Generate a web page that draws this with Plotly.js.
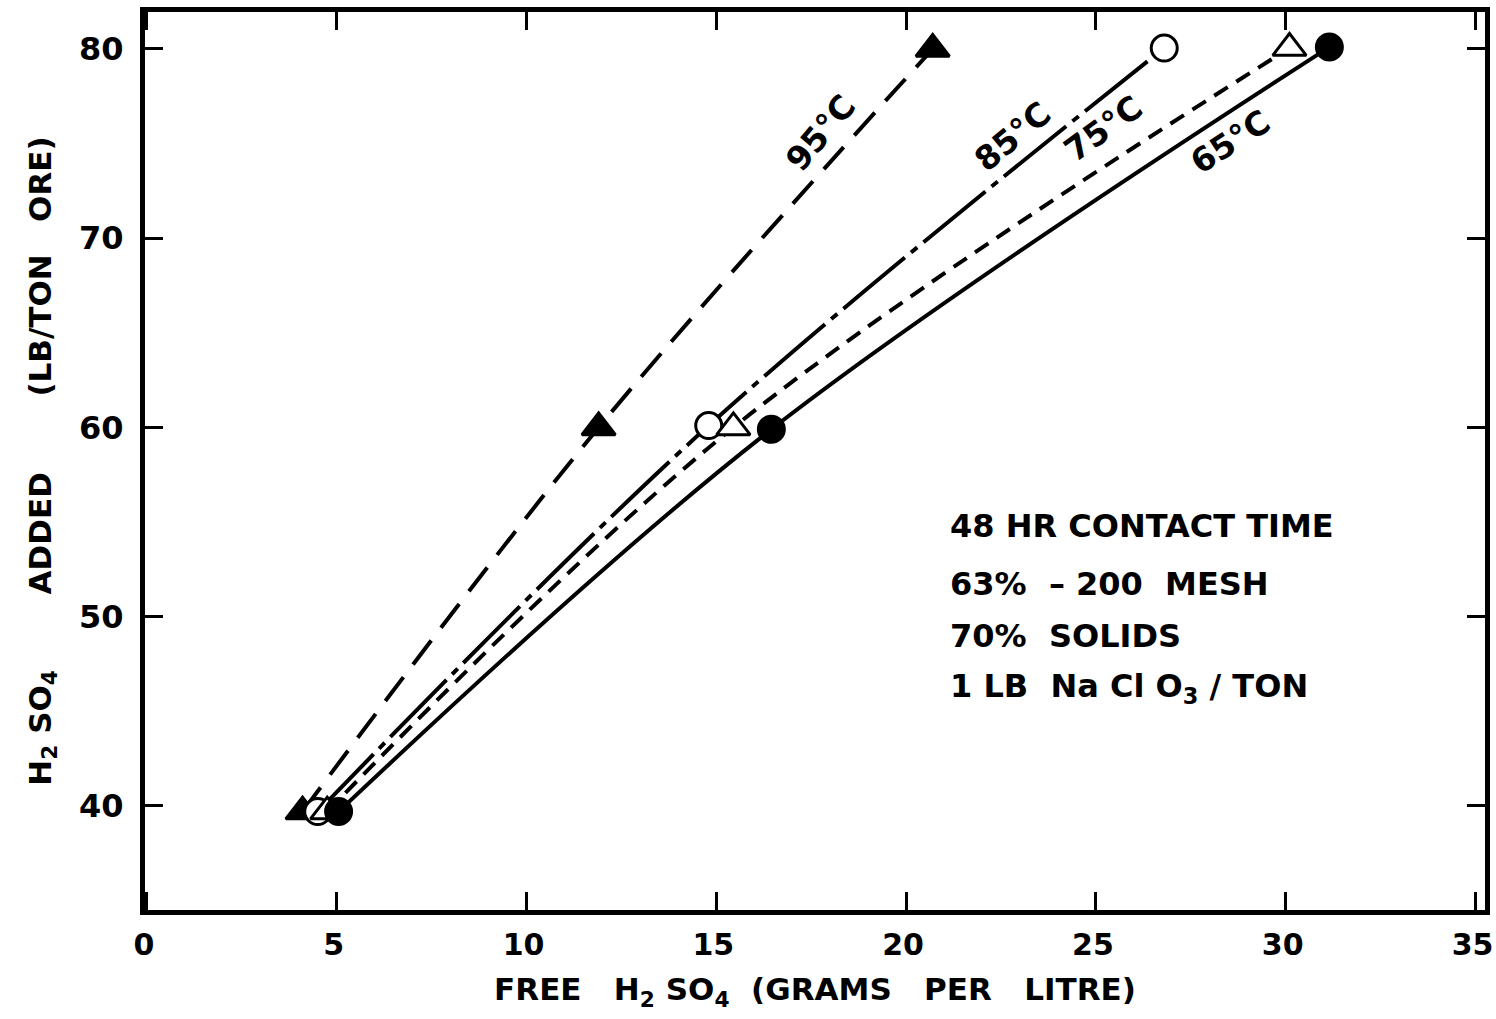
<!DOCTYPE html>
<html>
<head>
<meta charset="utf-8">
<script src="https://cdn.plot.ly/plotly-3.0.1.min.js"></script>
<style>html,body{margin:0;padding:0;background:#fff;}#chart{width:1496px;height:1019px;}</style>
</head>
<body>
<div id="chart"></div>
<script>
// Data
const acidAdded = [40, 60, 80];            // H2SO4 added, lb/ton ore (nominal)
const t95_x = [4.1, 11.9, 20.7];
const t95_y = [39.7, 60.0, 80.0];
const t85_x = [4.5, 14.8, 26.8];
const t85_y = [39.7, 60.1, 80.05];
const t75_x = [4.75, 15.45, 30.1];
const t75_y = [39.7, 60.0, 80.05];
const t65_x = [5.05, 16.45, 31.15];
const t65_y = [39.7, 59.9, 80.1];

const xTicks = [0, 5, 10, 15, 20, 25, 30, 35];
const xTickLabels = ["0", "5", "10", "15", "20", "25", "30", "35"];
const yTicks = [40, 50, 60, 70, 80];
const yTickLabels = ["40", "50", "60", "70", "80"];

const curveLabels = ["95\u00B0C", "85\u00B0C", "75\u00B0C", "65\u00B0C"];
const curveLabelX = [17.75, 22.8, 25.2, 28.55];
const curveLabelY = [75.6, 75.4, 75.8, 75.1];
const curveLabelAngle = [-50, -40, -36, -33];

const noteLines = ["48 HR CONTACT TIME", "63%  \u2013 200  MESH", "70%  SOLIDS", "1 LB  Na Cl O<sub>3</sub> / TON"];
const noteY = [54.8, 51.75, 49.0, 46.25];

const F = "DejaVu Sans, Liberation Sans, sans-serif";

function tr(x, y, dash, sym, fill, size) {
  return {
    x: x, y: y, type: "scatter", mode: "lines+markers",
    line: {shape: "spline", smoothing: 1, color: "#000", width: 4, dash: dash},
    marker: {symbol: sym, size: size, color: fill, line: {color: "#000", width: 3}},
    showlegend: false, hoverinfo: "skip", cliponaxis: false
  };
}

const traces = [
  tr(t95_x, t95_y, "30px,16px", "triangle-up", "#000", 29),
  tr(t85_x, t85_y, "80px,8px,8px,8px", "circle", "#fff", 26),
  tr(t75_x, t75_y, "16px,10px", "triangle-up", "#fff", 29),
  tr(t65_x, t65_y, "solid", "circle", "#000", 26)
];

const annotations = [];
for (let i = 0; i < curveLabels.length; i++) {
  annotations.push({
    x: curveLabelX[i], y: curveLabelY[i], xref: "x", yref: "y",
    text: "<b>" + curveLabels[i] + "</b>", showarrow: false, textangle: curveLabelAngle[i],
    font: {family: F, size: 33, color: "#000"}
  });
}
for (let i = 0; i < noteLines.length; i++) {
  annotations.push({
    x: 21.1, y: noteY[i], xref: "x", yref: "y", xanchor: "left",
    text: "<b>" + noteLines[i] + "</b>", showarrow: false,
    font: {family: F, size: 32, color: "#000"}
  });
}

const layout = {
  width: 1496, height: 1019,
  margin: {l: 145, r: 11, t: 12, b: 109},
  paper_bgcolor: "#fff", plot_bgcolor: "#fff",
  font: {family: F, color: "#000"},
  xaxis: {
    range: [-0.05, 35.25], tickvals: xTicks, ticktext: xTickLabels,
    ticks: "inside", ticklen: 18, tickwidth: 3, tickcolor: "#000",
    showline: true, linewidth: 5, linecolor: "#000", mirror: "ticks",
    showgrid: false, zeroline: false, ticklabelstandoff: 4, ticklabelshift: -3, ticklabeloverflow: "allow",
    tickfont: {family: F, size: 30, color: "#000", weight: "bold"},
    title: {text: "FREE \u00A0 H<sub>2</sub> SO<sub>4</sub> \u00A0(GRAMS \u00A0 PER \u00A0 LITRE)", font: {family: F, size: 31, color: "#000", weight: "bold"}, standoff: 19}
  },
  yaxis: {
    range: [34.5, 81.955], tickvals: yTicks, ticktext: yTickLabels,
    ticks: "inside", ticklen: 18, tickwidth: 3, tickcolor: "#000",
    showline: true, linewidth: 5, linecolor: "#000", mirror: "ticks",
    showgrid: false, zeroline: false, ticklabelstandoff: 10, ticklabeloverflow: "allow",
    tickfont: {family: F, size: 32, color: "#000", weight: "bold"},
    title: {text: "H<sub>2</sub> SO<sub>4</sub> \u00A0 \u00A0 \u00A0 ADDED \u00A0 \u00A0 \u00A0 (LB/TON \u00A0 ORE)", font: {family: F, size: 31, color: "#000", weight: "bold"}, standoff: 20}
  },
  annotations: annotations
};

Plotly.newPlot("chart", traces, layout, {staticPlot: true, displayModeBar: false});
</script>
</body>
</html>
